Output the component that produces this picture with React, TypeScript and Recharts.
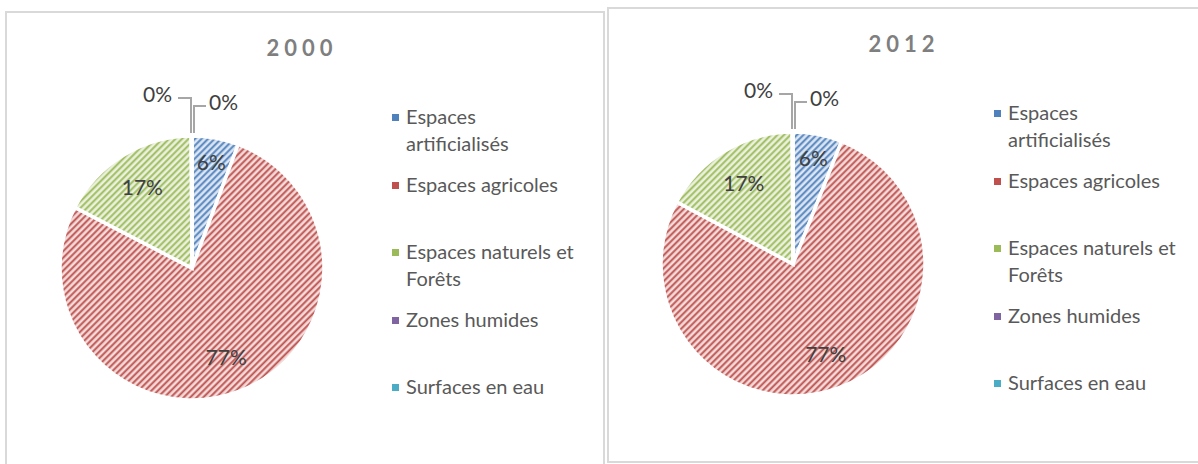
import { PieChart, Pie, Cell, Legend } from "recharts";

const categories = [
  "Espaces artificialisés",
  "Espaces agricoles",
  "Espaces naturels et Forêts",
  "Zones humides",
  "Surfaces en eau",
];
const values2000 = [5.7, 76.9, 17.3, 0.05, 0.05];
const values2012 = [6.0, 76.8, 17.1, 0.05, 0.05];
const years = ["2000", "2012"];

const colors = ["#4f81bd", "#c0504d", "#9bbb59", "#8064a2", "#4bacc6"];
const lightColors = ["#dce6f2", "#f2dcdb", "#ebf1de", "#e4dfec", "#dbeef4"];

const RAD = Math.PI / 180;
const R = 132;

function PatternDefs({ prefix }: { prefix: string }) {
  return (
    <defs>
      {colors.map((c, i) => (
        <pattern
          key={i}
          id={`${prefix}-p${i}`}
          width={4.6}
          height={4.6}
          patternUnits="userSpaceOnUse"
          patternTransform="rotate(45)"
        >
          <rect width={4.6} height={4.6} fill={lightColors[i]} />
          <line x1={1.2} y1={0} x2={1.2} y2={4.6} stroke={c} strokeWidth={1.9} />
        </pattern>
      ))}
    </defs>
  );
}

function renderLabel(props: any) {
  const { cx, cy, midAngle, percent, index } = props;
  const txt = `${Math.round(percent * 100)}%`;
  const style = { fontFamily: "Lato", fontSize: 21, fill: "#404040" };
  if (index === 3) {
    return (
      <g>
        <polyline
          points={`${cx - 14},${cy - 170} ${cx - 1},${cy - 170} ${cx - 1},${cy - R - 3}`}
          fill="none"
          stroke="#a6a6a6"
          strokeWidth={2}
        />
        <text x={cx - 20} y={cy - 175} textAnchor="end" dominantBaseline="central" {...style}>
          {txt}
        </text>
      </g>
    );
  }
  if (index === 4) {
    return (
      <g>
        <polyline
          points={`${cx + 2},${cy - R - 3} ${cx + 2},${cy - 162} ${cx + 14},${cy - 162}`}
          fill="none"
          stroke="#a6a6a6"
          strokeWidth={2}
        />
        <text x={cx + 17} y={cy - 167} textAnchor="start" dominantBaseline="central" {...style}>
          {txt}
        </text>
      </g>
    );
  }
  const r = R * (percent < 0.1 ? 0.82 : 0.72);
  const x = cx + r * Math.cos(-midAngle * RAD);
  const y = cy + r * Math.sin(-midAngle * RAD);
  return (
    <text x={x} y={y} textAnchor="middle" dominantBaseline="central" {...style}>
      {txt}
    </text>
  );
}

function LegendBox() {
  return (
    <div style={{ fontFamily: "Lato", fontSize: 20, color: "#595959" }}>
      {categories.map((name, i) => (
        <div
          key={name}
          style={{ height: 67.5, display: "flex", alignItems: "flex-start" }}
        >
          <span
            style={{
              width: 7,
              height: 7,
              background: colors[i],
              marginTop: 11,
              marginRight: 7,
              flex: "none",
            }}
          />
          <span style={{ lineHeight: "27px", width: 172 }}>{name}</span>
        </div>
      ))}
    </div>
  );
}

function YearPie({ year, values, cx }: { year: string; values: number[]; cx: number }) {
  const data = categories.map((name, i) => ({ name, value: values[i] }));
  const prefix = `y${year}`;
  return (
    <div style={{ position: "relative", width: 596, height: 452 }}>
      <div
        style={{
          position: "absolute",
          left: 0,
          width: 590,
          top: 21,
          textAlign: "center",
          fontFamily: "Lato",
          fontWeight: 700,
          fontSize: 22,
          letterSpacing: 5,
          color: "#7f7f7f",
        }}
      >
        {year}
      </div>
      <PieChart width={596} height={452}>
        <PatternDefs prefix={prefix} />
        <Pie
          data={data}
          dataKey="value"
          nameKey="name"
          cx={cx}
          cy={250}
          outerRadius={R}
          startAngle={90}
          endAngle={-270}
          stroke="#ffffff"
          strokeWidth={3.5}
          label={renderLabel}
          labelLine={false}
          isAnimationActive={false}
        >
          {data.map((d, i) => (
            <Cell key={d.name} fill={`url(#${prefix}-p${i})`} />
          ))}
        </Pie>
        <Legend
          layout="vertical"
          content={() => <LegendBox />}
          wrapperStyle={{ left: 385, top: 90, width: 200 }}
        />
      </PieChart>
    </div>
  );
}

export default function App() {
  return (
    <div
      style={{
        position: "absolute",
        left: 0,
        top: 0,
        width: 1198,
        height: 464,
        overflow: "hidden",
        background: "#fff",
      }}
    >
      <div
        style={{
          position: "absolute",
          left: 5,
          top: 11,
          width: 596,
          height: 470,
          border: "2px solid #d9d9d9",
        }}
      >
        <YearPie year={years[0]} values={values2000} cx={180} />
      </div>
      <div
        style={{
          position: "absolute",
          left: 607,
          top: 7,
          width: 600,
          height: 452,
          border: "2px solid #d9d9d9",
        }}
      >
        <YearPie year={years[1]} values={values2012} cx={179} />
      </div>
    </div>
  );
}
